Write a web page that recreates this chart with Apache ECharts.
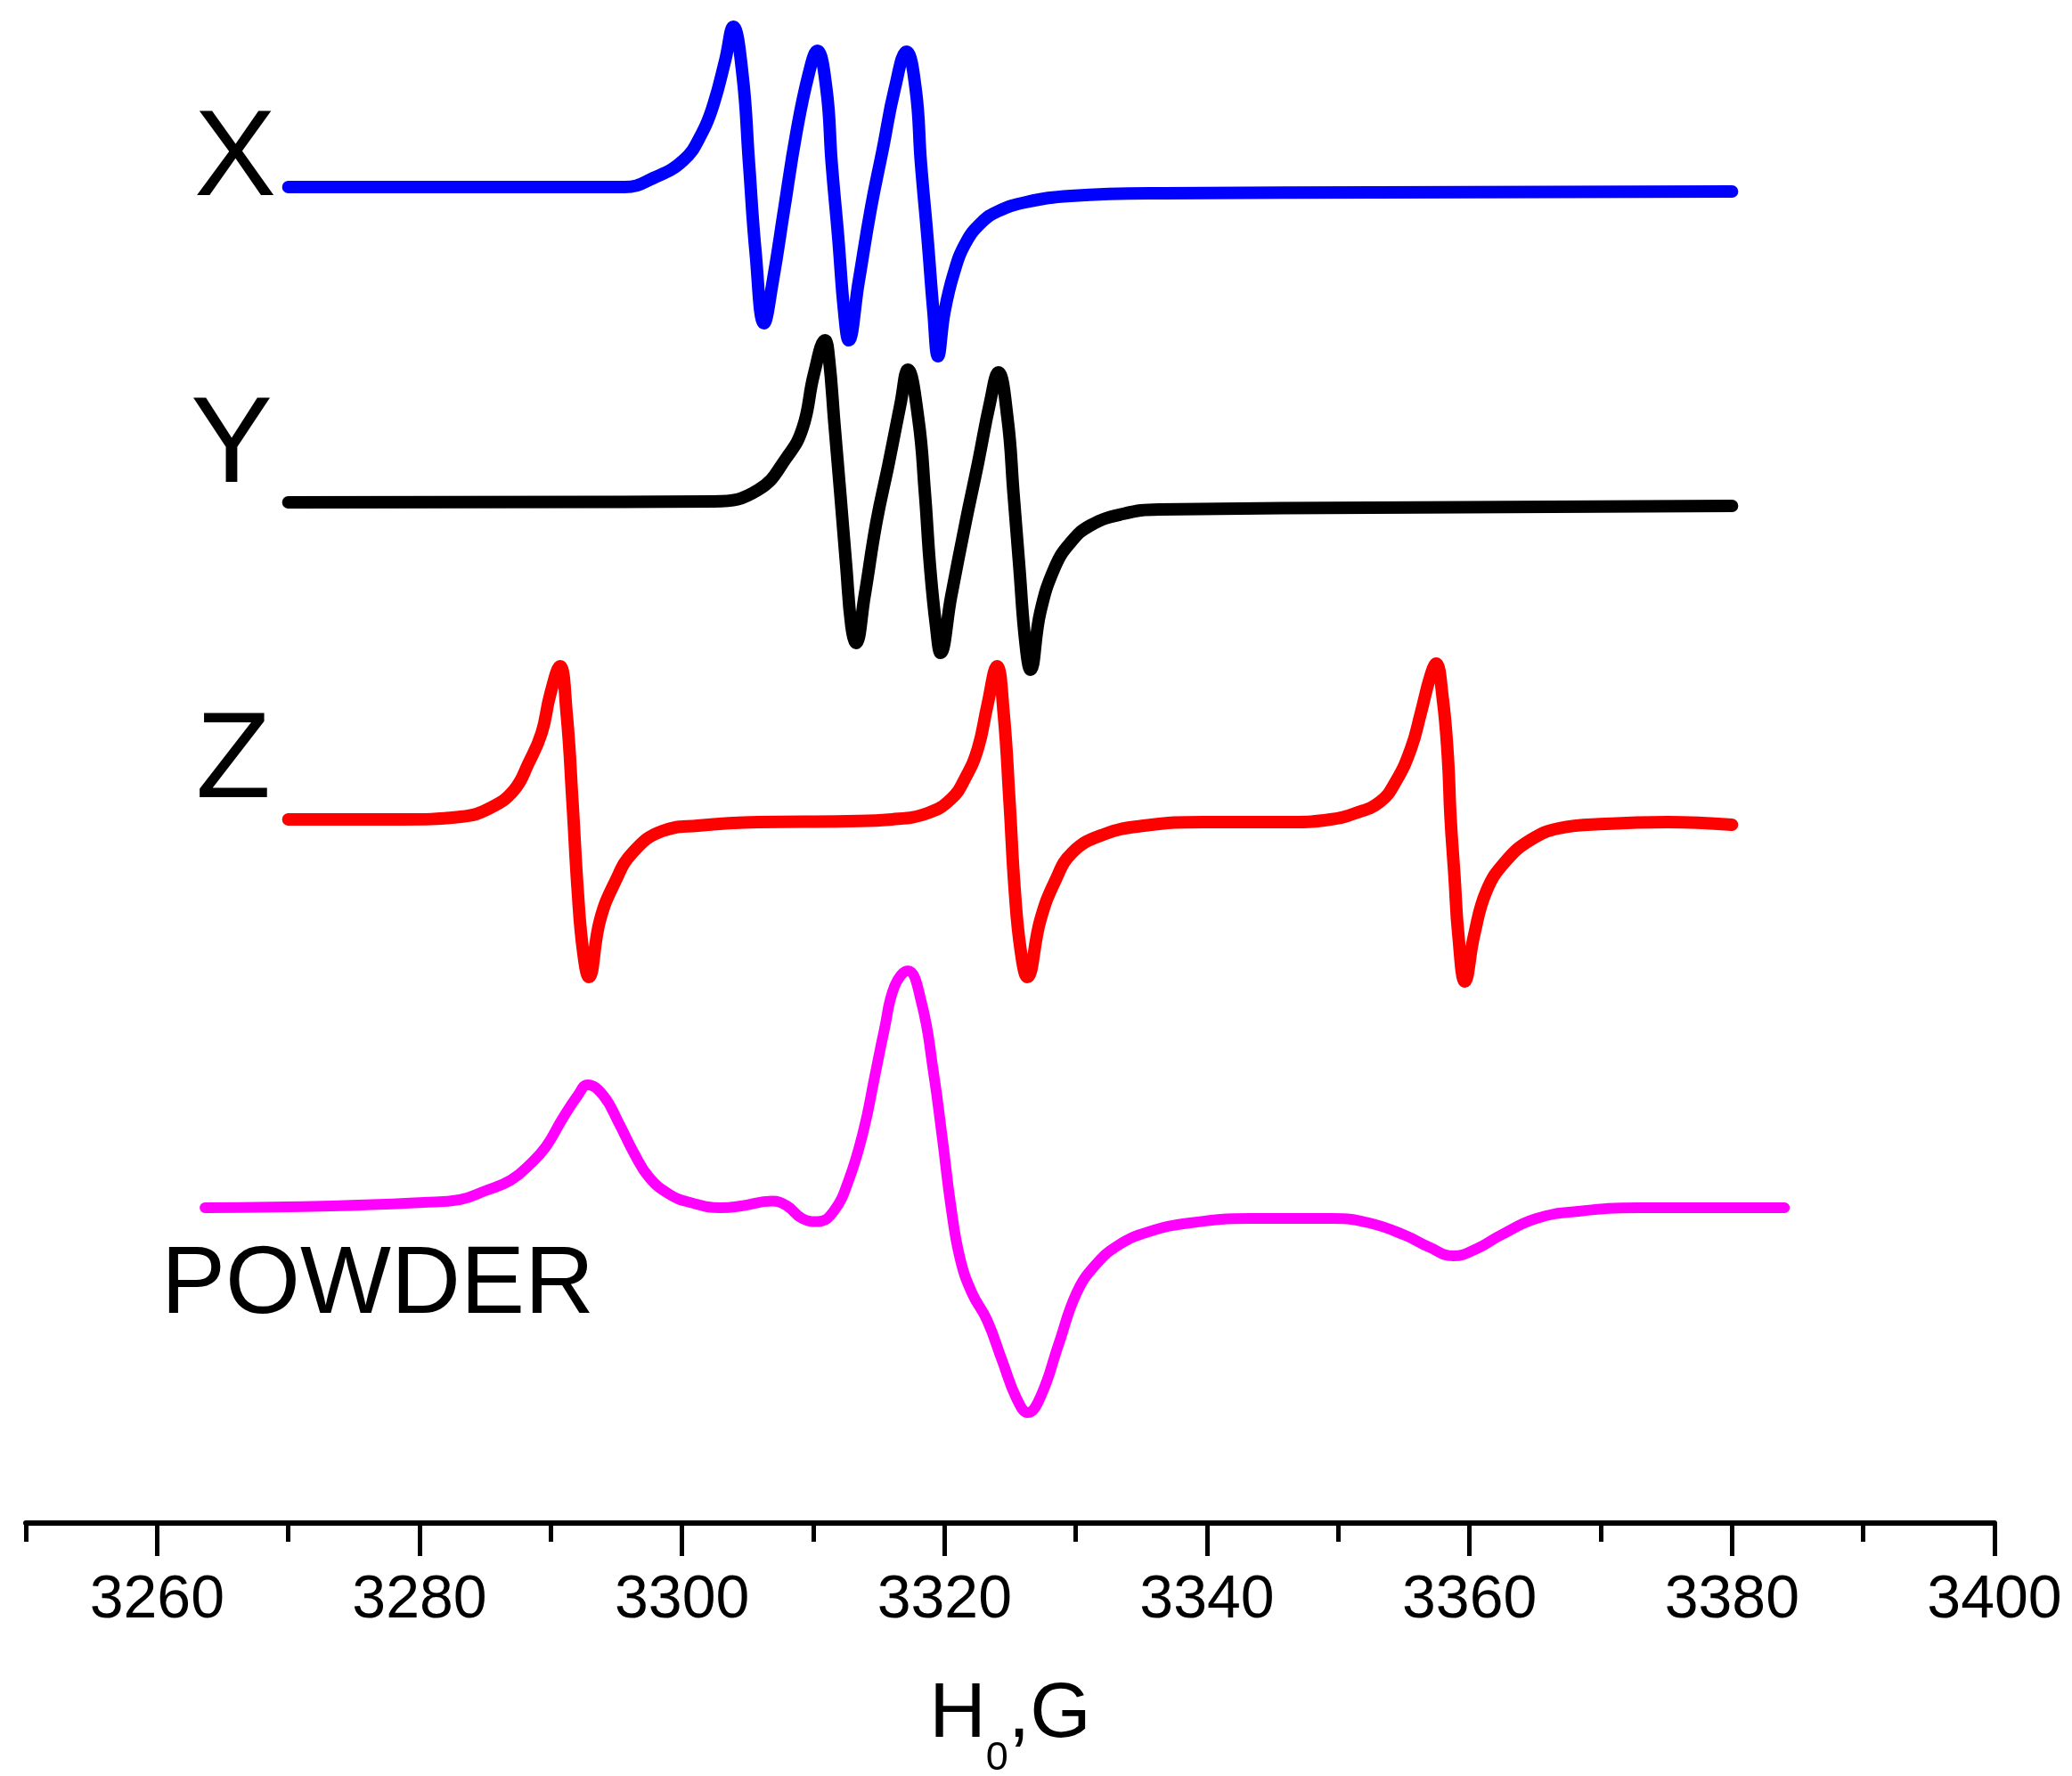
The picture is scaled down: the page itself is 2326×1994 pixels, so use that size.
<!DOCTYPE html>
<html>
<head>
<meta charset="utf-8">
<script src="https://cdn.jsdelivr.net/npm/echarts@6/dist/echarts.min.js"></script>
<style>
html,body{margin:0;padding:0;background:#fff;}
#chart{width:2326px;height:1994px;}
</style>
</head>
<body>
<div id="chart"></div>
<script>
// Magnetic field H0 (G) and derivative EPR signal (arbitrary units, relative to each trace's baseline)
const spectrumX = [[3270,0],[3295.6,0],[3297.8,1.0],[3300.1,3.0],[3301.5,6.0],[3302.4,9.3],[3303.3,14.3],[3303.9,18.0],[3304.6,12.7],[3305.1,2.7],[3305.6,-7.3],[3306.25,-15.3],[3306.9,-10.7],[3307.8,-2.3],[3308.7,6.0],[3309.65,12.7],[3310.3,15.3],[3311.0,11.0],[3311.4,2.7],[3311.9,-5.7],[3312.35,-14.0],[3312.7,-17.2],[3313.45,-10.7],[3314.4,-2.3],[3315.3,4.3],[3316.2,11.0],[3317.1,15.2],[3317.8,11.0],[3318.2,2.7],[3318.7,-5.7],[3319.15,-14.0],[3319.5,-19.0],[3320.0,-14.0],[3320.7,-9.7],[3321.6,-6.3],[3322.8,-4.0],[3324.1,-2.7],[3326.2,-1.7],[3329.6,-1.0],[3336.7,-0.7],[3380,-0.5]];
const spectrumY = [[3270,0],[3302.4,0.1],[3305.8,1.4],[3308.0,5.1],[3309.2,8.4],[3310.05,14.4],[3310.9,18.2],[3311.2,16.1],[3311.6,9.0],[3312.05,1.1],[3312.5,-7.0],[3312.9,-13.9],[3313.25,-15.8],[3313.9,-10.6],[3314.8,-2.3],[3315.75,4.4],[3316.65,11.1],[3317.2,14.9],[3318.0,9.4],[3318.5,1.1],[3318.9,-7.3],[3319.35,-13.9],[3319.7,-16.9],[3320.5,-10.6],[3321.6,-2.3],[3322.55,4.4],[3323.45,11.1],[3324.1,14.6],[3324.8,9.4],[3325.25,1.1],[3325.7,-7.3],[3326.15,-15.6],[3326.55,-18.8],[3327.3,-12.3],[3328.4,-7.3],[3329.55,-4.6],[3331.1,-2.6],[3333.6,-1.3],[3336.35,-0.8],[3380,-0.4]];
const spectrumZ = [[3270,0.1],[3278.6,0.1],[3283.15,0.4],[3285.4,1.4],[3287.2,3.4],[3288.3,6.4],[3289.3,9.8],[3289.95,14.1],[3290.7,17.3],[3291.2,12.1],[3291.65,2.1],[3292.05,-7.9],[3292.45,-14.6],[3292.9,-17.6],[3293.75,-11.2],[3294.9,-6.9],[3296.25,-3.6],[3298.5,-1.2],[3301.2,-0.6],[3305.8,-0.2],[3312.6,-0.1],[3316.0,0.1],[3318.7,0.8],[3320.5,2.4],[3321.6,4.8],[3322.55,8.1],[3323.25,12.8],[3324.0,17.3],[3324.5,12.1],[3324.95,2.1],[3325.35,-7.9],[3325.8,-14.6],[3326.3,-17.6],[3327.3,-11.2],[3328.4,-6.9],[3329.75,-3.6],[3332.1,-1.6],[3335.2,-0.6],[3339.75,-0.2],[3346.5,-0.2],[3349.4,0.1],[3351.3,0.8],[3353.2,2.1],[3354.4,4.4],[3355.55,8.1],[3356.3,12.1],[3357.0,16.1],[3357.45,17.6],[3357.95,13.8],[3358.35,7.1],[3358.55,0.4],[3358.85,-6.2],[3359.15,-12.9],[3359.65,-18.1],[3360.35,-12.9],[3361.3,-7.9],[3362.75,-4.6],[3364.65,-2.2],[3366.8,-0.9],[3370.4,-0.4],[3375.1,-0.2],[3380,-0.5]];
const spectrumPowder = [[3263.65,-0.1],[3273.3,0.1],[3280.3,0.5],[3283.05,0.8],[3285.0,1.8],[3286.95,3.0],[3288.5,4.9],[3289.65,6.8],[3290.85,9.8],[3292.05,12.5],[3292.8,13.7],[3294.0,12.5],[3295.15,9.5],[3296.35,6.0],[3297.5,3.3],[3299.05,1.4],[3300.6,0.5],[3302.95,-0.1],[3304.5,0.1],[3306.85,0.65],[3308.0,0.1],[3309.15,-1.3],[3310.35,-1.65],[3311.55,-0.5],[3312.7,3.0],[3313.85,8.7],[3314.65,14.4],[3315.4,19.8],[3316.2,24.8],[3317.2,26.5],[3318.25,22.9],[3319.15,15.2],[3319.85,7.5],[3320.5,-0.1],[3321.2,-5.9],[3322.1,-9.7],[3323.25,-12.75],[3324.4,-17.3],[3325.5,-21.55],[3326.35,-23.1],[3327.35,-21.2],[3328.7,-15.4],[3330.05,-9.7],[3331.45,-6.6],[3333.25,-4.3],[3335.55,-2.8],[3338.7,-1.8],[3343.3,-1.3],[3349.6,-1.3],[3352.35,-1.8],[3355.1,-3.2],[3356.9,-4.5],[3358.75,-5.5],[3360.55,-4.7],[3362.35,-3.2],[3365.1,-1.3],[3368.25,-0.5],[3372.8,-0.1],[3379.7,-0.1],[3384.0,-0.1]];
const traceNames = ['X', 'Y', 'Z', 'POWDER'];
const tickLabels = [3260, 3280, 3300, 3320, 3340, 3360, 3380, 3400];

// stacking offsets (layout) and styles
const offsets = [150, 114.6, 78.9, 35.5];
const colors = ['#0000ff', '#000000', '#ff0000', '#ff00ff'];
const widths = [14, 14, 14, 12];
const FONT = "'Liberation Sans', Arial, Helvetica, sans-serif";

const spectra = [spectrumX, spectrumY, spectrumZ, spectrumPowder];
const series = spectra.map((d, i) => ({
  type: 'line',
  name: traceNames[i],
  xAxisIndex: 0,
  yAxisIndex: 0,
  data: d.map(p => [p[0], p[1] + offsets[i]]),
  showSymbol: false,
  smooth: 0.45,
  clip: false,
  lineStyle: { color: colors[i], width: widths[i], cap: 'round', join: 'round' },
  z: 3
}));

const chart = echarts.init(document.getElementById('chart'), null, { renderer: 'canvas' });
const PX_PER_G = 2210 / 150;
chart.setOption({
  animation: false,
  backgroundColor: '#ffffff',
  grid: [
    { left: 29, right: 87, top: 0, bottom: 284, containLabel: false, outerBoundsMode: 'none' },
    { left: 29 + 10 * PX_PER_G, right: 87, top: 0, bottom: 284, containLabel: false, outerBoundsMode: 'none' }
  ],
  xAxis: [
    {
      type: 'value', gridIndex: 0, min: 3250, max: 3400, interval: 10, position: 'bottom',
      axisLine: { show: true, onZero: false, lineStyle: { color: '#000', width: 6 } },
      axisTick: { show: true, length: 21, lineStyle: { color: '#000', width: 5 } },
      axisLabel: { show: false },
      splitLine: { show: false },
      name: '{m|H}{s|0}{m|,G}',
      nameLocation: 'middle',
      nameGap: 172,
      nameTextStyle: {
        rich: {
          m: { fontSize: 88, lineHeight: 94, verticalAlign: 'top', fontFamily: FONT, color: '#000' },
          s: { fontSize: 45, lineHeight: 45, verticalAlign: 'top', padding: [70, 0, 0, 0], fontFamily: FONT, color: '#000' }
        }
      }
    },
    {
      type: 'value', gridIndex: 1, min: tickLabels[0], max: tickLabels[tickLabels.length - 1], interval: 20, position: 'bottom',
      axisLine: { show: false, onZero: false },
      axisTick: { show: true, length: 37, lineStyle: { color: '#000', width: 5 } },
      axisLabel: {
        show: true, fontSize: 68, margin: 53, lineHeight: 68, color: '#000', fontFamily: FONT,
        formatter: v => String(v)
      },
      splitLine: { show: false }
    }
  ],
  yAxis: [
    { type: 'value', gridIndex: 0, min: 0, max: 171, show: false, splitLine: { show: false } },
    { type: 'value', gridIndex: 1, min: 0, max: 171, show: false, splitLine: { show: false } }
  ],
  graphic: [
    { type: 'text', x: 264, y: 181, style: { text: traceNames[0], fontSize: 138, fontFamily: FONT, fill: '#000', textAlign: 'center', align: 'center', textVerticalAlign: 'middle', verticalAlign: 'middle' } },
    { type: 'text', x: 260, y: 503, style: { text: traceNames[1], fontSize: 138, fontFamily: FONT, fill: '#000', textAlign: 'center', align: 'center', textVerticalAlign: 'middle', verticalAlign: 'middle' } },
    { type: 'text', x: 262, y: 857, style: { text: traceNames[2], fontSize: 138, fontFamily: FONT, fill: '#000', textAlign: 'center', align: 'center', textVerticalAlign: 'middle', verticalAlign: 'middle' } },
    { type: 'text', x: 181, y: 1444, style: { text: traceNames[3], fontSize: 108, fontFamily: FONT, fill: '#000', textAlign: 'left', align: 'left', textVerticalAlign: 'middle', verticalAlign: 'middle' } }
  ],
  series: series
});
</script>
</body>
</html>
